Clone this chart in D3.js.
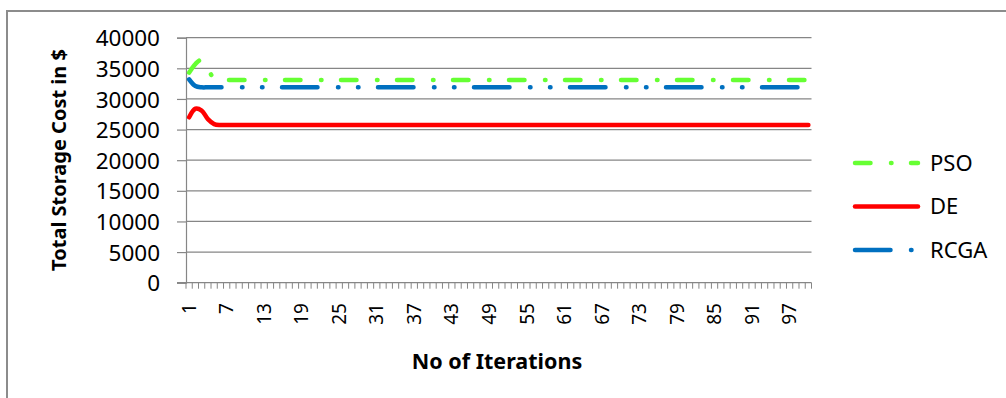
<!DOCTYPE html>
<html>
<head>
<meta charset="utf-8">
<script src="https://cdn.jsdelivr.net/npm/d3@7"></script>
<style>
  html, body { margin: 0; padding: 0; background: #fff; }
  svg { display: block; }
  text { font-family: "Noto Sans", "Open Sans", sans-serif; fill: #000; }
</style>
</head>
<body>
<svg id="chart" width="1006" height="398"></svg>
<script>
// Iteration numbers 1..100
const iterations = [
  1, 2, 3, 4, 5, 6, 7, 8, 9, 10,
  11, 12, 13, 14, 15, 16, 17, 18, 19, 20,
  21, 22, 23, 24, 25, 26, 27, 28, 29, 30,
  31, 32, 33, 34, 35, 36, 37, 38, 39, 40,
  41, 42, 43, 44, 45, 46, 47, 48, 49, 50,
  51, 52, 53, 54, 55, 56, 57, 58, 59, 60,
  61, 62, 63, 64, 65, 66, 67, 68, 69, 70,
  71, 72, 73, 74, 75, 76, 77, 78, 79, 80,
  81, 82, 83, 84, 85, 86, 87, 88, 89, 90,
  91, 92, 93, 94, 95, 96, 97, 98, 99, 100
];

// Total storage cost per iteration ($)
const psoCost = [
  34300, 35700, 36400, 34800, 33400, 33100, 33100, 33100, 33100, 33100,
  33100, 33100, 33100, 33100, 33100, 33100, 33100, 33100, 33100, 33100,
  33100, 33100, 33100, 33100, 33100, 33100, 33100, 33100, 33100, 33100,
  33100, 33100, 33100, 33100, 33100, 33100, 33100, 33100, 33100, 33100,
  33100, 33100, 33100, 33100, 33100, 33100, 33100, 33100, 33100, 33100,
  33100, 33100, 33100, 33100, 33100, 33100, 33100, 33100, 33100, 33100,
  33100, 33100, 33100, 33100, 33100, 33100, 33100, 33100, 33100, 33100,
  33100, 33100, 33100, 33100, 33100, 33100, 33100, 33100, 33100, 33100,
  33100, 33100, 33100, 33100, 33100, 33100, 33100, 33100, 33100, 33100,
  33100, 33100, 33100, 33100, 33100, 33100, 33100, 33100, 33100, 33100
];
const deCost = [
  27000, 28400, 28100, 26700, 25900, 25750, 25750, 25750, 25750, 25750,
  25750, 25750, 25750, 25750, 25750, 25750, 25750, 25750, 25750, 25750,
  25750, 25750, 25750, 25750, 25750, 25750, 25750, 25750, 25750, 25750,
  25750, 25750, 25750, 25750, 25750, 25750, 25750, 25750, 25750, 25750,
  25750, 25750, 25750, 25750, 25750, 25750, 25750, 25750, 25750, 25750,
  25750, 25750, 25750, 25750, 25750, 25750, 25750, 25750, 25750, 25750,
  25750, 25750, 25750, 25750, 25750, 25750, 25750, 25750, 25750, 25750,
  25750, 25750, 25750, 25750, 25750, 25750, 25750, 25750, 25750, 25750,
  25750, 25750, 25750, 25750, 25750, 25750, 25750, 25750, 25750, 25750,
  25750, 25750, 25750, 25750, 25750, 25750, 25750, 25750, 25750, 25750
];
const rcgaCost = [
  33200, 32100, 31900, 31900, 31900, 31900, 31900, 31900, 31900, 31900,
  31900, 31900, 31900, 31900, 31900, 31900, 31900, 31900, 31900, 31900,
  31900, 31900, 31900, 31900, 31900, 31900, 31900, 31900, 31900, 31900,
  31900, 31900, 31900, 31900, 31900, 31900, 31900, 31900, 31900, 31900,
  31900, 31900, 31900, 31900, 31900, 31900, 31900, 31900, 31900, 31900,
  31900, 31900, 31900, 31900, 31900, 31900, 31900, 31900, 31900, 31900,
  31900, 31900, 31900, 31900, 31900, 31900, 31900, 31900, 31900, 31900,
  31900, 31900, 31900, 31900, 31900, 31900, 31900, 31900, 31900, 31900,
  31900, 31900, 31900, 31900, 31900, 31900, 31900, 31900, 31900, 31900,
  31900, 31900, 31900, 31900, 31900, 31900, 31900, 31900, 31900, 31900
];

const seriesNames = ["PSO", "DE", "RCGA"];
const yTicks = [0, 5000, 10000, 15000, 20000, 25000, 30000, 35000, 40000];
const xTickLabels = [1, 7, 13, 19, 25, 31, 37, 43, 49, 55, 61, 67, 73, 79, 85, 91, 97];

const yTitle = "Total Storage Cost in $";
const xTitle = "No of Iterations";

// ---- layout & styles ----
const plot = { left: 186, right: 811.5, top: 37.7, bottom: 282.7 };
const gridColor = "#868686";
const labelColor = "#1a1a1a";
const styles = {
  PSO:  { color: "#66ff33", dash: "15.5,20.5,0.5,19.5" },
  DE:   { color: "#ff0000", dash: null },
  RCGA: { color: "#0070c0", dash: "35.5,20.5,0.5,19.5,0.5,19.5" }
};
const lineWidth = 4.5;

const svg = d3.select("#chart");

// chart frame
svg.append("rect")
  .attr("x", 7).attr("y", 11)
  .attr("width", 1100).attr("height", 500)
  .attr("fill", "#fff")
  .attr("stroke", "#8c8c8c").attr("stroke-width", 2);

const x = d3.scaleBand().domain(iterations).range([plot.left, plot.right]);
const y = d3.scaleLinear().domain([0, 40000]).range([plot.bottom, plot.top]);

// horizontal gridlines
svg.append("g")
  .selectAll("line")
  .data(yTicks.filter(d => d > 0))
  .join("line")
  .attr("x1", plot.left).attr("x2", plot.right)
  .attr("y1", d => y(d)).attr("y2", d => y(d))
  .attr("stroke", gridColor).attr("stroke-width", 1.2);

// y axis
const yAxis = svg.append("g")
  .attr("transform", `translate(${plot.left},0)`)
  .call(d3.axisLeft(y).tickValues(yTicks).tickSize(9).tickPadding(17).tickFormat(d3.format("d")));
yAxis.select(".domain").attr("stroke", gridColor).attr("stroke-width", 1.2);
yAxis.selectAll(".tick line").attr("stroke", gridColor).attr("stroke-width", 1.2);
yAxis.selectAll(".tick text")
  .attr("font-size", 22.5).attr("font-family", "'Noto Sans', sans-serif")
  .attr("fill", labelColor).attr("dy", "0.36em");

// x axis: tick marks on category boundaries
const boundaries = iterations.map(d => x(d)).concat([plot.right]);
svg.append("line")
  .attr("x1", plot.left - 9).attr("x2", plot.right)
  .attr("y1", plot.bottom).attr("y2", plot.bottom)
  .attr("stroke", gridColor).attr("stroke-width", 1.2);
svg.append("g")
  .selectAll("line")
  .data(boundaries)
  .join("line")
  .attr("x1", d => d).attr("x2", d => d)
  .attr("y1", plot.bottom).attr("y2", plot.bottom + 6)
  .attr("stroke", gridColor).attr("stroke-width", 1);

// x tick labels, rotated
svg.append("g")
  .selectAll("text")
  .data(xTickLabels)
  .join("text")
  .attr("transform", d => `translate(${x(d) + x.bandwidth() / 2},303) rotate(-90)`)
  .attr("text-anchor", "end")
  .attr("dy", "0.35em")
  .attr("font-size", 19)
  .attr("fill", labelColor)
  .text(d => d);

// series lines
const line = d3.line()
  .x((d, i) => x(iterations[i]) + x.bandwidth() / 2)
  .y(d => y(d))
  .curve(d3.curveCatmullRom.alpha(0.5));

const seriesData = { PSO: psoCost, DE: deCost, RCGA: rcgaCost };
seriesNames.forEach(name => {
  svg.append("path")
    .datum(seriesData[name])
    .attr("d", line)
    .attr("fill", "none")
    .attr("stroke", styles[name].color)
    .attr("stroke-width", lineWidth)
    .attr("stroke-linecap", "round")
    .attr("stroke-linejoin", "round")
    .attr("stroke-dasharray", styles[name].dash);
});

// axis titles
svg.append("text")
  .attr("transform", "translate(59,160) rotate(-90)")
  .attr("text-anchor", "middle")
  .attr("dy", "0.35em")
  .attr("font-size", 20).attr("font-weight", "bold")
  .text(yTitle);

svg.append("text")
  .attr("x", 497).attr("y", 361)
  .attr("text-anchor", "middle")
  .attr("dy", "0.35em")
  .attr("font-size", 21.5).attr("font-weight", "bold")
  .text(xTitle);

// legend
const legendY = d3.scalePoint().domain(seriesNames).range([163, 250]);
const legend = svg.append("g");
seriesNames.forEach(name => {
  const ly = legendY(name);
  legend.append("line")
    .attr("x1", 855).attr("x2", 918)
    .attr("y1", ly).attr("y2", ly)
    .attr("stroke", styles[name].color)
    .attr("stroke-width", lineWidth)
    .attr("stroke-linecap", "round")
    .attr("stroke-dasharray", styles[name].dash);
  legend.append("text")
    .attr("x", 930).attr("y", ly)
    .attr("dy", "0.35em")
    .attr("font-size", 22)
    .attr("fill", labelColor)
    .text(name);
});
</script>
</body>
</html>
